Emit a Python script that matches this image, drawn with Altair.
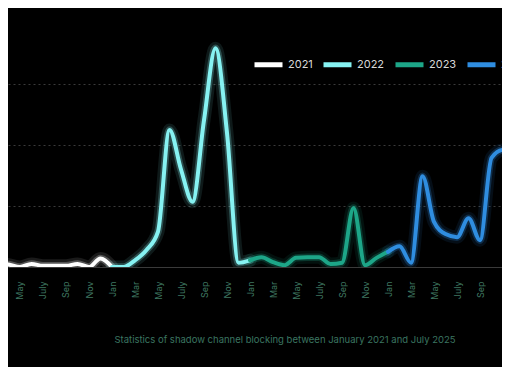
import altair as alt
import pandas as pd

years = ["2021", "2022", "2023", "2024"]
colors = ["#ffffff", "#86f2f2", "#1da688", "#2f8de0"]
v2021 = [3, 5, 6, 4, 0, 5, 2, 2, 2, 5, 0, 14]
v2022 = [0, 0, 11, 28, 58, 225, 160, 107, 241, 359, 220, 7]
v2023 = [11, 16, 8, 3, 15, 16, 16, 5, 7, 97, 3, 15]
v2024 = [25, 34, 7, 149, 74, 54, 49, 80, 44, 179, 192, 179]
month_names = ["Jan", "Feb", "Mar", "Apr", "May", "June", "July", "Aug", "Sep", "Oct", "Nov", "Dec"]
caption = "Statistics of shadow channel blocking between January 2021 and July 2025"

series = [v2021, v2022, v2023, v2024]
rows = []
for i, (yr, vals) in enumerate(zip(years, series)):
    for j, v in enumerate(vals):
        rows.append({"m": 12 * i + j, "value": v, "year": yr})
    if i + 1 < len(series):
        rows.append({"m": 12 * (i + 1), "value": series[i + 1][0], "year": yr})
df = pd.DataFrame(rows)

names_js = "[" + ",".join("'%s'" % n for n in month_names) + "]"

x = alt.X(
    "m:Q",
    scale=alt.Scale(domain=[2.957, 45.91], nice=False, zero=False),
    axis=alt.Axis(
        values=list(range(4, 46, 2)),
        labelExpr=names_js + "[datum.value % 12]",
        labelAngle=270,
        labelColor="#3f7862",
        labelFontSize=9,
        labelFont="Inter",
        labelPadding=14,
        ticks=False,
        grid=False,
        domainColor="#3a3a3a",
        domainWidth=1,
        title=None,
    ),
)
y = alt.Y(
    "value:Q",
    scale=alt.Scale(domain=[0, 425], nice=False),
    axis=alt.Axis(
        values=[100, 200, 300],
        labels=False,
        ticks=False,
        domain=False,
        grid=True,
        gridColor="#3a3a3a",
        gridDash=[2, 3],
        gridWidth=1,
        title=None,
    ),
)
cscale = alt.Scale(domain=years, range=colors)

base = alt.Chart(df)
glow1 = base.mark_line(interpolate="monotone", clip=True, strokeWidth=13, opacity=0.10, strokeCap="round").encode(
    x=x, y=y, color=alt.Color("year:N", scale=cscale, legend=None), detail="year:N")
glow2 = base.mark_line(interpolate="monotone", clip=True, strokeWidth=7.5, opacity=0.25, strokeCap="round").encode(
    x=x, y=y, color=alt.Color("year:N", scale=cscale, legend=None), detail="year:N")
core = base.mark_line(interpolate="monotone", clip=True, strokeWidth=4, strokeCap="round").encode(
    x=x, y=y,
    color=alt.Color(
        "year:N", scale=cscale,
        legend=alt.Legend(
            title=None, orient="none", legendX=244, legendY=40, direction="horizontal",
            symbolType="stroke", symbolSize=784, symbolStrokeWidth=5,
            labelOffset=3, columnPadding=0, labelColor="#d8d8d8",
            labelFontSize=11, labelFont="Inter",
        ),
    ),
    detail="year:N",
)

chart = alt.layer(glow1, glow2, core).resolve_legend(color="independent").properties(
    width=494, height=259, background="#000000",
    padding={"left": 0, "top": 0, "right": 0, "bottom": 100},
    autosize=alt.AutoSizeParams(type="none"),
    title=alt.TitleParams(caption, orient="bottom", color="#3b7560", fontSize=9.5,
                          font="Inter", fontWeight="normal", anchor="middle", dx=30, offset=36),
).configure_view(stroke=None)

chart.save("out.html", embed_options={"renderer": "svg", "actions": False})
